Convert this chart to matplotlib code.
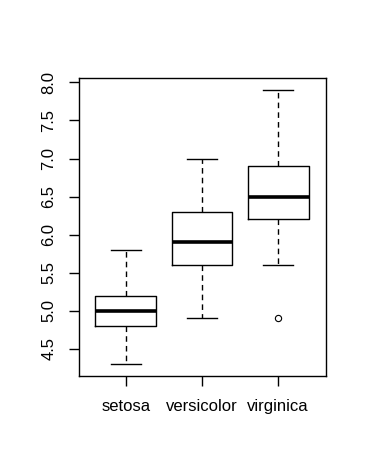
import matplotlib
matplotlib.use('Agg')
import matplotlib.pyplot as plt

# iris Sepal.Length by species, five number summaries
species = ['setosa', 'versicolor', 'virginica']
lo_whisker = [4.3, 4.9, 5.6]
q1 = [4.8, 5.6, 6.2]
medians = [5.0, 5.9, 6.5]
q3 = [5.2, 6.3, 6.9]
hi_whisker = [5.8, 7.0, 7.9]
outliers = [[], [], [4.9]]
yticks = [4.5, 5.0, 5.5, 6.0, 6.5, 7.0, 7.5, 8.0]

plt.rcParams['font.family'] = ['Liberation Sans', 'DejaVu Sans']

fig = plt.figure(figsize=(3.66, 4.74), dpi=100)
ax = fig.add_axes([78.5/366, 1-376/474, 247/366, 298/474])

stats = []
for i in range(3):
    stats.append(dict(whislo=lo_whisker[i], q1=q1[i], med=medians[i], q3=q3[i],
                      whishi=hi_whisker[i], fliers=outliers[i], label=species[i]))

ax.bxp(stats, positions=[1, 2, 3], widths=0.8,
       boxprops=dict(color='black', linewidth=1),
       medianprops=dict(color='black', linewidth=2.6, solid_capstyle='butt'),
       whiskerprops=dict(color='black', linewidth=1, linestyle=(0, (4, 3))),
       capprops=dict(color='black', linewidth=1),
       capwidths=0.4,
       flierprops=dict(marker='o', markerfacecolor='none', markeredgecolor='black',
                       markersize=4.5, markeredgewidth=0.8))

ax.set_xlim(0.38, 3.62)
ax.set_ylim(4.145, 8.057)
ax.set_yticks(yticks)
ax.set_yticklabels(['%.1f' % v for v in yticks], rotation=90, va='center', fontsize=12)
ax.set_xticks([1, 2, 3])
ax.set_xticklabels(species, fontsize=12)
ax.tick_params(axis='both', length=7, width=1, color='black')
ax.tick_params(axis='x', pad=9.5)
ax.tick_params(axis='y', pad=9)
for s in ax.spines.values():
    s.set_linewidth(1)
    s.set_color('black')

fig.savefig('out.png', dpi=100)
